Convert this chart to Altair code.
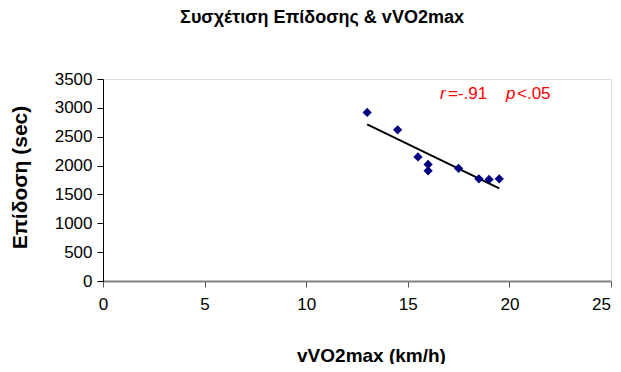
import altair as alt
import pandas as pd

# Data
vvo2max = [13.0, 14.5, 15.5, 16.0, 16.0, 17.5, 18.5, 19.0, 19.5]
performance = [2920, 2620, 2150, 2020, 1910, 1950, 1770, 1760, 1770]

x_ticks = [0, 5, 10, 15, 20, 25]
y_ticks = [0, 500, 1000, 1500, 2000, 2500, 3000, 3500]

title_text = "Συσχέτιση Επίδοσης & vVO2max"
x_title = "vVO2max (km/h)"
y_title = "Επίδοση (sec)"
annotation_parts = ["r", "=-.91", "p", "<.05"]

df = pd.DataFrame({"x": vvo2max, "y": performance})
one = pd.DataFrame({"k": [0]})

FONT = "Liberation Sans"

x_enc = alt.X(
    "x:Q",
    scale=alt.Scale(domain=[0, 25], nice=False, zero=True),
    axis=alt.Axis(
        values=x_ticks, title=x_title, grid=False, labelOverlap=False, labelFlush=False, format="d",
        domainColor="#808080", domainWidth=2, tickColor="#555555", tickSize=6,
        labelFont=FONT, labelFontSize=17, labelColor="black", labelPadding=9,
        labelOffset={"condition": {"test": "datum.value == 25", "value": -10}, "value": 0},
        titleFont=FONT, titleFontSize=19, titleFontWeight="bold", titleColor="black",
        titleX=268, titleY=74, titleAlign="center", titleBaseline="middle",
    ),
)
y_enc = alt.Y(
    "y:Q",
    scale=alt.Scale(domain=[0, 3500], nice=False),
    axis=alt.Axis(
        values=y_ticks, title=y_title, grid=False, labelOverlap=False, labelFlush=False, format="d",
        domainColor="black", domainWidth=1, tickColor="black", tickSize=6,
        labelFont=FONT, labelFontSize=17, labelColor="black", labelPadding=5,
        titleFont=FONT, titleFontSize=21, titleFontWeight="bold", titleColor="black",
        titleX=-83, titleY=98, titleAngle=270, titleAlign="center", titleBaseline="middle",
    ),
)

base = alt.Chart(df)

points = base.mark_point(shape="diamond", filled=True, size=85, color="#000080", opacity=1).encode(
    x=x_enc, y=y_enc
)

reg = base.transform_regression("x", "y").mark_line(color="black", strokeWidth=2).encode(
    x=x_enc, y=y_enc
)

ann_style = dict(font=FONT, fontSize=17, color="#FF0000", align="left", baseline="alphabetic")
ann = alt.Chart(one)
t1 = ann.mark_text(text=annotation_parts[0], fontStyle="italic", **ann_style).encode(x=alt.value(337), y=alt.value(20))
t2 = ann.mark_text(text=annotation_parts[1], **ann_style).encode(x=alt.value(345), y=alt.value(20))
t3 = ann.mark_text(text=annotation_parts[2], fontStyle="italic", **ann_style).encode(x=alt.value(403), y=alt.value(20))
t4 = ann.mark_text(text=annotation_parts[3], **ann_style).encode(x=alt.value(414), y=alt.value(20))

chart = alt.layer(reg, points, t1, t2, t3, t4).properties(
    width=508,
    height=202,
    title=alt.TitleParams(
        text=title_text, font=FONT, fontSize=18, fontWeight="bold", color="black",
        anchor="middle", dx=-35, offset=29, baseline="alphabetic",
    ),
    autosize=alt.AutoSizeParams(type="none"),
    padding={"left": 95, "top": 71, "right": 2, "bottom": 83},
).configure_view(stroke=None).configure(background="white")

chart.save("out.html", embed_options={"renderer": "svg", "actions": False})
